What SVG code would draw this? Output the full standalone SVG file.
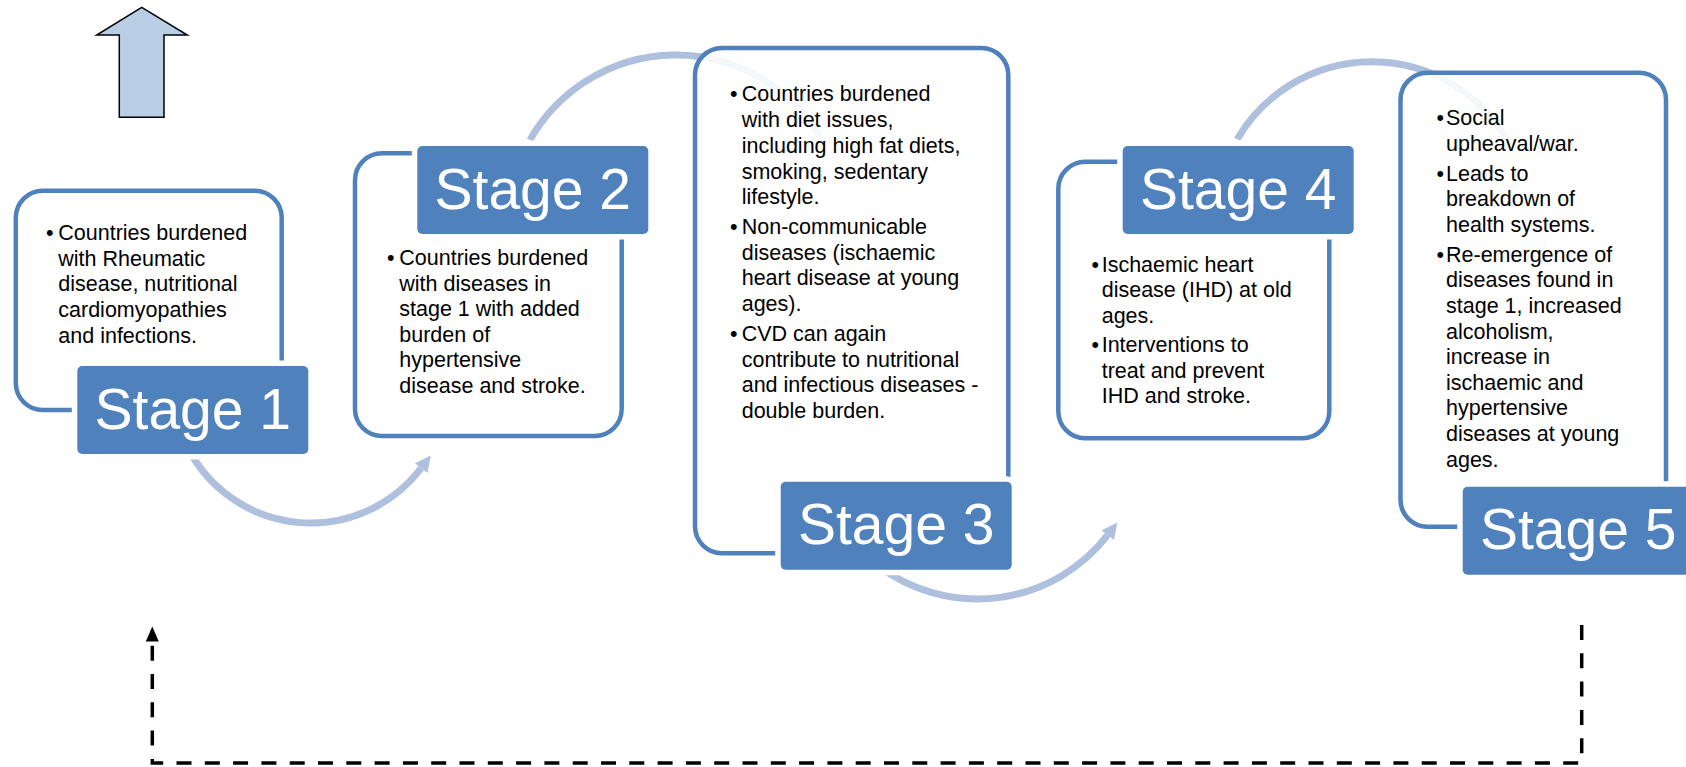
<svg xmlns="http://www.w3.org/2000/svg" width="1686" height="767" viewBox="0 0 1686 767">
  <defs>
    <style>
      .box { fill: #ffffff; fill-opacity: 0.88; stroke: #4F81BD; stroke-width: 4.5; }
      .label { fill: #4F81BD; stroke: #ffffff; stroke-width: 11; paint-order: stroke; }
      .ltxt { font-family: "Liberation Sans", Arial, sans-serif; font-size: 57px; fill: #ffffff; text-anchor: middle; }
      .body { font-family: "Liberation Sans", Arial, sans-serif; font-size: 21.5px; fill: #000000; }
      .arc { fill: none; stroke: #AFC0DE; stroke-width: 7; }
      .dash { fill: none; stroke: #000000; stroke-width: 3.5; stroke-dasharray: 15 13.3; }
    </style>
    <marker id="arcHead" markerUnits="userSpaceOnUse" markerWidth="20" markerHeight="20" refX="0" refY="8" orient="auto">
      <path d="M0,0 L16,8 L0,16 z" fill="#AFC0DE"/>
    </marker>
    <marker id="dashHead" markerUnits="userSpaceOnUse" markerWidth="18" markerHeight="16" refX="0" refY="6.5" orient="auto">
      <path d="M0,0 L15,6.5 L0,13 z" fill="#000000"/>
    </marker>
  </defs>

  <g id="up-arrow">
    <polygon points="141.7,7.3 187.3,35 164,35 164,117.3 119.3,117.3 119.3,35 96.7,35" fill="#B9CDE5" stroke="#000000" stroke-width="1.5"/>
  </g>

  <g id="connectors">
    <path class="arc" d="M189,450 A138.2,138.2 0 0 0 421.1,468.2" marker-end="url(#arcHead)"/>
    <path class="arc" d="M529.9,140 A168,168 0 0 1 820,136.4"/>
    <path class="arc" d="M877.1,565 A164.8,164.8 0 0 0 1107.6,535.2" marker-end="url(#arcHead)"/>
    <path class="arc" d="M1237.2,139.3 A156,156 0 0 1 1507,139.6"/>
    <path class="dash" d="M1581.7,625 V763 H152.3 V641.5" marker-end="url(#dashHead)"/>
  </g>

  <g id="stage1">
    <rect class="box" x="15.8" y="190.8" width="265.9" height="219.2" rx="27"/>
    <text class="body" x="46" y="240">•</text>
    <text class="body">
      <tspan x="58.3" y="240">Countries burdened</tspan>
      <tspan x="58.3" y="265.7">with Rheumatic</tspan>
      <tspan x="58.3" y="291.4">disease, nutritional</tspan>
      <tspan x="58.3" y="317.1">cardiomyopathies</tspan>
      <tspan x="58.3" y="342.8">and infections.</tspan>
    </text>
    <rect class="label" x="77.3" y="366" width="231" height="88" rx="5"/>
    <text class="ltxt" x="192.8" y="428.5">Stage 1</text>
  </g>

  <g id="stage2">
    <rect class="box" x="355" y="153.3" width="266.7" height="282.7" rx="27"/>
    <text class="body" x="387" y="265">•</text>
    <text class="body">
      <tspan x="399.3" y="265">Countries burdened</tspan>
      <tspan x="399.3" y="290.5">with diseases in</tspan>
      <tspan x="399.3" y="316">stage 1 with added</tspan>
      <tspan x="399.3" y="341.5">burden of</tspan>
      <tspan x="399.3" y="367">hypertensive</tspan>
      <tspan x="399.3" y="392.5">disease and stroke.</tspan>
    </text>
    <rect class="label" x="417.3" y="146" width="231" height="88" rx="5"/>
    <text class="ltxt" x="532.8" y="208.5">Stage 2</text>
  </g>

  <g id="stage3">
    <rect class="box" x="695" y="47.9" width="313.3" height="505.3" rx="27"/>
    <text class="body" x="730" y="101.4">•</text>
    <text class="body" x="730" y="234">•</text>
    <text class="body" x="730" y="341">•</text>
    <text class="body">
      <tspan x="741.7" y="101.4">Countries burdened</tspan>
      <tspan x="741.7" y="127.1">with diet issues,</tspan>
      <tspan x="741.7" y="152.8">including high fat diets,</tspan>
      <tspan x="741.7" y="178.5">smoking, sedentary</tspan>
      <tspan x="741.7" y="204.2">lifestyle.</tspan>
      <tspan x="741.7" y="234">Non-communicable</tspan>
      <tspan x="741.7" y="259.7">diseases (ischaemic</tspan>
      <tspan x="741.7" y="285.4">heart disease at young</tspan>
      <tspan x="741.7" y="311.1">ages).</tspan>
      <tspan x="741.7" y="341">CVD can again</tspan>
      <tspan x="741.7" y="366.7">contribute to nutritional</tspan>
      <tspan x="741.7" y="392.4">and infectious diseases -</tspan>
      <tspan x="741.7" y="418.1">double burden.</tspan>
    </text>
    <rect class="label" x="780.7" y="481.7" width="231" height="88" rx="5"/>
    <text class="ltxt" x="896.2" y="544.2">Stage 3</text>
  </g>

  <g id="stage4">
    <rect class="box" x="1058.3" y="161.7" width="271" height="276.6" rx="27"/>
    <text class="body" x="1091.5" y="271.7">•</text>
    <text class="body" x="1091.5" y="352.2">•</text>
    <text class="body">
      <tspan x="1101.7" y="271.7">Ischaemic heart</tspan>
      <tspan x="1101.7" y="297.2">disease (IHD) at old</tspan>
      <tspan x="1101.7" y="322.7">ages.</tspan>
      <tspan x="1101.7" y="352.2">Interventions to</tspan>
      <tspan x="1101.7" y="377.7">treat and prevent</tspan>
      <tspan x="1101.7" y="403.2">IHD and stroke.</tspan>
    </text>
    <rect class="label" x="1122.7" y="146" width="231" height="88" rx="5"/>
    <text class="ltxt" x="1238.2" y="208.5">Stage 4</text>
  </g>

  <g id="stage5">
    <rect class="box" x="1400.5" y="72.7" width="265.5" height="454" rx="27"/>
    <text class="body" x="1436.5" y="125">•</text>
    <text class="body" x="1436.5" y="180.6">•</text>
    <text class="body" x="1436.5" y="261.8">•</text>
    <text class="body">
      <tspan x="1446" y="125">Social</tspan>
      <tspan x="1446" y="150.6">upheaval/war.</tspan>
      <tspan x="1446" y="180.6">Leads to</tspan>
      <tspan x="1446" y="206.2">breakdown of</tspan>
      <tspan x="1446" y="231.8">health systems.</tspan>
      <tspan x="1446" y="261.8">Re-emergence of</tspan>
      <tspan x="1446" y="287.4">diseases found in</tspan>
      <tspan x="1446" y="313">stage 1, increased</tspan>
      <tspan x="1446" y="338.6">alcoholism,</tspan>
      <tspan x="1446" y="364.2">increase in</tspan>
      <tspan x="1446" y="389.8">ischaemic and</tspan>
      <tspan x="1446" y="415.4">hypertensive</tspan>
      <tspan x="1446" y="441">diseases at young</tspan>
      <tspan x="1446" y="466.6">ages.</tspan>
    </text>
    <rect class="label" x="1462.7" y="486.7" width="231" height="88" rx="5"/>
    <text class="ltxt" x="1578.2" y="549.2">Stage 5</text>
  </g>
</svg>
